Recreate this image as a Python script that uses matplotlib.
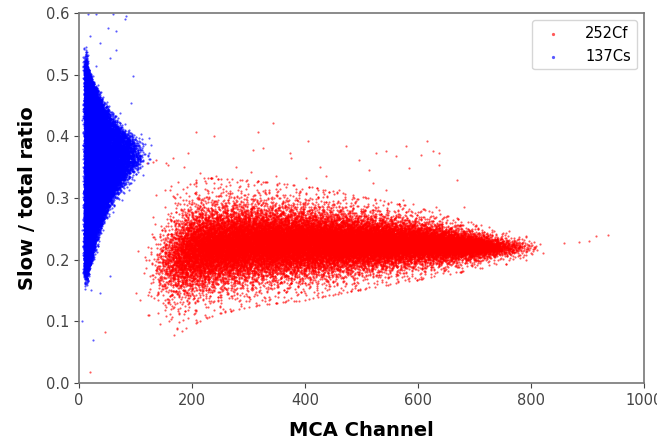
import numpy as np
import matplotlib
matplotlib.use("Agg")
import matplotlib.pyplot as plt

# ---- values ----
# 252Cf band: x stations along MCA channel, relative density, band centre and spread
cf_x_knots = [140, 170, 200, 250, 300, 400, 500, 600, 650, 700, 730, 760, 800]
cf_density = [0.05, 0.35, 0.85, 1.0, 1.0, 1.0, 0.95, 0.85, 0.75, 0.55, 0.3, 0.1, 0.02]
cf_centre = [0.19, 0.20, 0.215, 0.222, 0.226, 0.227, 0.227, 0.226, 0.224, 0.222, 0.221, 0.22, 0.22]
cf_sigma = [0.034, 0.036, 0.035, 0.032, 0.03, 0.027, 0.022, 0.017, 0.014, 0.011, 0.009, 0.008, 0.008]

# sparse 252Cf events outside the band
cf_out_x = [343, 208, 240, 317, 405, 473, 579, 617, 626, 637, 606, 526, 544, 561, 496, 514,
            585, 637, 670, 308, 326, 373, 376, 193, 187, 158, 131, 214, 243, 267, 279, 305,
            349, 402, 426, 438, 461, 485, 520, 544, 573, 591, 632, 637, 682, 779, 806, 859,
            903, 915, 779, 122, 193, 167, 334, 373, 108, 161, 231, 120, 137, 155, 167, 101,
            122, 149, 125, 19, 47, 936, 886]
cf_out_y = [0.422, 0.407, 0.401, 0.407, 0.392, 0.384, 0.384, 0.392, 0.376, 0.373, 0.370, 0.373,
            0.376, 0.368, 0.362, 0.346, 0.348, 0.354, 0.330, 0.378, 0.381, 0.373, 0.365, 0.373,
            0.351, 0.354, 0.359, 0.340, 0.335, 0.321, 0.351, 0.343, 0.335, 0.332, 0.351, 0.335,
            0.313, 0.302, 0.324, 0.313, 0.297, 0.291, 0.286, 0.281, 0.286, 0.237, 0.221, 0.227,
            0.230, 0.239, 0.208, 0.110, 0.118, 0.121, 0.156, 0.161, 0.134, 0.313, 0.302, 0.357,
            0.362, 0.357, 0.365, 0.145, 0.143, 0.129, 0.110, 0.018, 0.082, 0.240, 0.228]

# 137Cs band: ratio stations, relative density and right edge in channel
cs_y_knots = [0.18, 0.19, 0.20, 0.243, 0.297, 0.33, 0.362, 0.395, 0.416, 0.46, 0.503, 0.52]
cs_density = [0.1, 0.2, 0.3, 0.45, 0.7, 0.9, 1.0, 0.9, 0.7, 0.4, 0.15, 0.05]
cs_x_right = [15, 18, 22, 31, 55, 78, 102, 93, 66, 37, 18, 14]

# sparse 137Cs events
cs_out_x = [16, 31, 61, 84, 81, 52, 66, 19, 37, 13, 66, 55, 31, 96, 93, 72, 55, 37, 25, 22, 5, 5]
cs_out_y = [0.598, 0.598, 0.598, 0.596, 0.590, 0.576, 0.571, 0.563, 0.552, 0.541, 0.541, 0.527,
            0.514, 0.498, 0.454, 0.438, 0.173, 0.145, 0.070, 0.151, 0.248, 0.100]


def halton(n, base):
    # deterministic low-discrepancy sequence used to fill the bands
    out = np.zeros(n)
    idx = np.arange(1, n + 1)
    f = 1.0
    while np.any(idx > 0):
        f /= base
        out += f * (idx % base)
        idx //= base
    return out


def inv_cdf(u, knots, weights):
    grid = np.linspace(knots[0], knots[-1], 800)
    dens = np.interp(grid, knots, weights)
    cdf = np.cumsum(dens)
    cdf = (cdf - cdf[0]) / (cdf[-1] - cdf[0])
    return np.interp(u, cdf, grid)


def logit(u):
    u = np.clip(u, 0.002, 0.998)
    return 0.55 * np.log(u / (1 - u))


# fill the 252Cf band
n_cf = 34000
cf_x = inv_cdf(halton(n_cf, 2), cf_x_knots, cf_density)
cf_x = cf_x + 14 * logit(halton(n_cf, 5))
cf_y = np.interp(cf_x, cf_x_knots, cf_centre) + \
    np.interp(cf_x, cf_x_knots, cf_sigma) * logit(halton(n_cf, 3))
cf_x = np.concatenate([cf_x, cf_out_x])
cf_y = np.concatenate([cf_y, cf_out_y])

# fill the 137Cs band
n_cs = 20000
cs_y = inv_cdf(halton(n_cs, 7), cs_y_knots, cs_density)
cs_y = cs_y + 0.012 * logit(halton(n_cs, 11))
edge = np.interp(cs_y, cs_y_knots, cs_x_right) * (1 + 0.12 * logit(halton(n_cs, 13)))
cs_x = 11 + (edge - 11) * halton(n_cs, 17) ** 1.3
cs_x = cs_x + 1.5 * logit(halton(n_cs, 19))
cs_x = np.concatenate([cs_x, cs_out_x])
cs_y = np.concatenate([cs_y, cs_out_y])

fig, ax = plt.subplots(figsize=(6.57, 4.4), dpi=100)
fig.subplots_adjust(left=0.12, right=0.98, top=0.97, bottom=0.13)

ax.scatter(cf_x, cf_y, s=2.4, c='red', alpha=0.65, linewidths=0, label='252Cf')
ax.scatter(cs_x, cs_y, s=2.4, c='blue', alpha=0.65, linewidths=0, label='137Cs')

ax.set_xlim(0, 1000)
ax.set_ylim(0, 0.6)
ax.set_xticks([0, 200, 400, 600, 800, 1000])
ax.set_yticks([0.0, 0.1, 0.2, 0.3, 0.4, 0.5, 0.6])
ax.tick_params(labelsize=10.5, colors='#444444')
for sp in ax.spines.values():
    sp.set_color('#777777')
    sp.set_linewidth(1.2)

ax.set_xlabel('MCA Channel', fontsize=14, fontweight='bold', labelpad=10)
ax.set_ylabel('Slow / total ratio', fontsize=14, fontweight='bold', labelpad=6)
ax.legend(loc='upper right', fontsize=10.5, markerscale=1.5, handletextpad=1.2)

fig.savefig('out.png', dpi=100)
